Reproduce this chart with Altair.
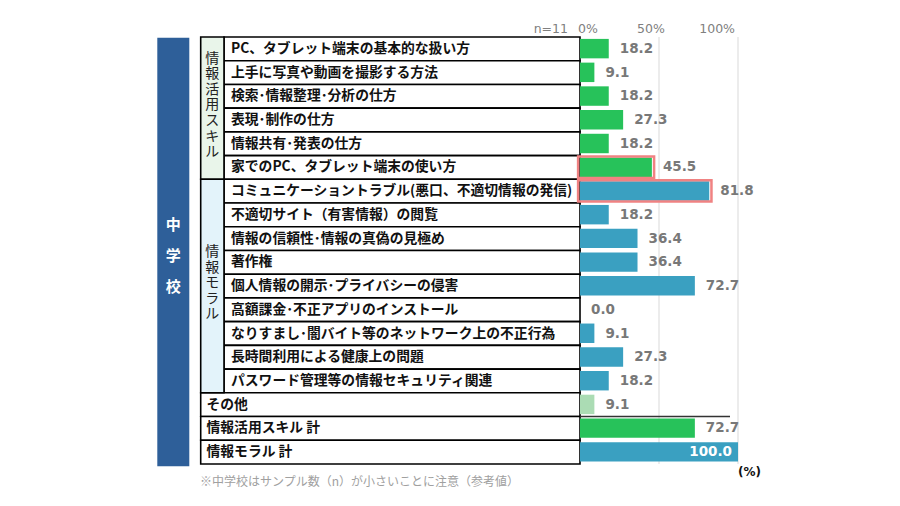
import altair as alt
import pandas as pd

labels = [
    "PC、タブレット端末の基本的な扱い方",
    "上手に写真や動画を撮影する方法",
    "検索･情報整理･分析の仕方",
    "表現･制作の仕方",
    "情報共有･発表の仕方",
    "家でのPC、タブレット端末の使い方",
    "コミュニケーショントラブル(悪口、不適切情報の発信)",
    "不適切サイト（有害情報）の閲覧",
    "情報の信頼性･情報の真偽の見極め",
    "著作権",
    "個人情報の開示･プライバシーの侵害",
    "高額課金･不正アプリのインストール",
    "なりすまし･闇バイト等のネットワーク上の不正行為",
    "長時間利用による健康上の問題",
    "パスワード管理等の情報セキュリティ関連",
    "その他",
    "情報活用スキル 計",
    "情報モラル 計",
]
values = [18.2, 9.1, 18.2, 27.3, 18.2, 45.5, 81.8, 18.2, 36.4, 36.4,
          72.7, 0.0, 9.1, 27.3, 18.2, 9.1, 72.7, 100.0]
kinds = ["skill"] * 6 + ["moral"] * 9 + ["other", "skill", "moral"]
highlight = [False] * 5 + [True, True] + [False] * 11
groups = ["情報活用スキル", "情報モラル"]
group_rows = [(0, 6), (6, 15)]
school = "中学校"
tick_labels = ["0%", "50%", "100%"]
tick_values = [0, 50, 100]
n_text = "n=11"
unit_text = "(%)"
note = "※中学校はサンプル数（n）が小さいことに注意（参考値）"

# colours
kind_colors = {"skill": "#27c25a", "moral": "#3aa0c1", "other": "#abdcb4"}
group_bg = ["#e9f5ea", "#e3f3fa"]

JP = "Noto Sans CJK JP"
NUM = "DejaVu Sans"

# layout in data units (x: percent units, y: row units)
row_h_px = 23.72
top_px = 37.0
x_px_per_unit = 1.58
zero_px = 580.0
xs = alt.Scale(domain=[-zero_px / x_px_per_unit, (900 - zero_px) / x_px_per_unit], nice=False, zero=False)
y0 = -top_px / row_h_px
ys = alt.Scale(domain=[y0, y0 + 506 / row_h_px], nice=False, zero=False, reverse=True)

def ux(px):
    return (px - zero_px) / x_px_per_unit

def uy(px):
    return (px - top_px) / row_h_px

TABLE_L = ux(200.7)
CAT_R = ux(224.0)
LABEL_X = ux(231.0)
LABEL_X2 = ux(206.5)
n_grp = 15
G_LH = 15.6
S_LH = 31.0

df = pd.DataFrame({
    "label": labels,
    "value": values,
    "kind": kinds,
    "hl": highlight,
})
df["r"] = range(len(df))
df["rt"] = df["r"] + 0.08
df["rb"] = df["r"] + 0.90
df["rm"] = df["r"] + 0.5
df["x0"] = 0.0
df["color"] = df["kind"].map(kind_colors)
df["cl"] = [CAT_R if r < n_grp else TABLE_L for r in df["r"]]
df["cr"] = 0.0
df["lx"] = [LABEL_X if r < n_grp else LABEL_X2 for r in df["r"]]
df["ct"] = df["r"]
df["cb"] = df["r"] + 1
df["vtxt"] = [f"{v:.1f}" for v in values]
df["inside"] = df["value"] >= 95
df["ol"] = -1.2
df["orr"] = df["value"] + 1.4
df["ot"] = df["r"] + 0.04
df["ob"] = df["r"] + 0.94

gdf = pd.DataFrame({
    "g": groups,
    "gt": [a for a, b in group_rows],
    "gb": [b for a, b in group_rows],
    "bg": group_bg,
})
# first line position so that the vertical text block is centred in the group
gdf["gm"] = (gdf["gt"] + gdf["gb"]) / 2 - 0.12 - [(len(g) - 1) * G_LH / 2 / row_h_px for g in groups]
gdf["txt"] = ["\n".join(list(g)) for g in groups]
gdf["x1"] = TABLE_L
gdf["x2"] = CAT_R
gdf["xm"] = (TABLE_L + CAT_R) / 2

def X(f):
    return alt.X(f, type="quantitative", scale=xs, axis=None)

def Y(f):
    return alt.Y(f, type="quantitative", scale=ys, axis=None)

# blue school box
sdf = pd.DataFrame({"t": ["\n".join(list(school))], "x1": [ux(157.3)], "x2": [ux(189.3)],
                    "y1": [0.03], "y2": [18.1], "xm": [ux(173.3)],
                    "ym": [uy(255.7 - (len(school) - 1) * S_LH / 2)]})
school_box = alt.Chart(sdf).mark_rect(color="#2e5f99").encode(
    x=X("x1"), x2="x2", y=Y("y1"), y2="y2")
school_txt = alt.Chart(sdf).mark_text(
    font=JP, fontSize=15, fontWeight="bold", color="white", lineBreak="\n",
    lineHeight=S_LH, align="center", baseline="middle").encode(
    x=X("xm"), y=Y("ym"), text="t:N")

# grid lines
grid_df = pd.DataFrame({"v": tick_values[1:], "a": [0.0, 0.0], "b": [18.0, 18.0]})
grid = alt.Chart(grid_df).mark_rule(color="#d9d9d9", strokeWidth=1).encode(
    x=X("v"), y=Y("a"), y2="b")

# table
cells = alt.Chart(df).mark_rect(fill="white", stroke="black", strokeWidth=1.6).encode(
    x=X("cl"), x2="cr", y=Y("ct"), y2="cb")
gcells = alt.Chart(gdf).mark_rect(stroke="black", strokeWidth=1.6).encode(
    x=X("x1"), x2="x2", y=Y("gt"), y2="gb",
    fill=alt.Fill("bg:N", scale=None))
gtext = alt.Chart(gdf).mark_text(
    font=JP, fontSize=14, color="#222222", lineBreak="\n", lineHeight=G_LH,
    align="center", baseline="middle").encode(
    x=X("xm"), y=Y("gm"), text="txt:N")
ltext = alt.Chart(df).mark_text(
    font=JP, fontSize=13.8, fontWeight="bold", color="#111111",
    align="left", baseline="middle").encode(
    x=X("lx"), y=Y("rm"), text="label:N")

# bars
bars = alt.Chart(df).mark_rect().encode(
    x=X("x0"), x2="value", y=Y("rt"), y2="rb",
    fill=alt.Fill("color:N", scale=None))
outline = alt.Chart(df).transform_filter("datum.hl").mark_rect(
    fill=None, stroke="#f08282", strokeWidth=2.5).encode(
    x=X("ol"), x2="orr", y=Y("ot"), y2="ob")

sep_df = pd.DataFrame({"a": [0.0], "b": [ux(730)], "y": [16.0]})
sep = alt.Chart(sep_df).mark_rule(color="#333333", strokeWidth=1.6).encode(
    x=X("a"), x2="b", y=Y("y"))

vout = alt.Chart(df).transform_filter("!datum.inside").mark_text(
    font=NUM, fontSize=13.5, fontWeight="bold", color="#787878",
    align="left", baseline="middle", dx=11).encode(
    x=X("value"), y=Y("rm"), text="vtxt:N")
vin = alt.Chart(df).transform_filter("datum.inside").mark_text(
    font=NUM, fontSize=13.5, fontWeight="bold", color="white",
    align="right", baseline="middle", dx=-6).encode(
    x=X("value"), y=Y("rm"), text="vtxt:N")

# header
hy = uy(29)
tick_styles = [("left", -2), ("center", -8), ("right", -3)]
header_layers = []
for lab, val, (al, dx) in zip(tick_labels, tick_values, tick_styles):
    hd = pd.DataFrame({"t": [lab], "x": [val], "y": [hy]})
    header_layers.append(alt.Chart(hd).mark_text(
        font=NUM, fontSize=12.5, color="#808080", align=al, baseline="middle", dx=dx).encode(
        x=X("x"), y=Y("y"), text="t:N"))
nd = pd.DataFrame({"t": [n_text], "x": [0.0], "y": [hy]})
header_layers.append(alt.Chart(nd).mark_text(
    font=NUM, fontSize=12.5, color="#808080", align="right", baseline="middle", dx=-12).encode(
    x=X("x"), y=Y("y"), text="t:N"))

ud = pd.DataFrame({"t": [unit_text], "x": [100.0], "y": [uy(471.7)]})
unit = alt.Chart(ud).mark_text(
    font=NUM, fontSize=12, fontWeight="bold", color="#111111", align="left", baseline="middle").encode(
    x=X("x"), y=Y("y"), text="t:N")
fd = pd.DataFrame({"t": [note], "x": [ux(200)], "y": [uy(481.7)]})
foot = alt.Chart(fd).mark_text(
    font=JP, fontSize=12, color="#a0a0a0", align="left", baseline="middle").encode(
    x=X("x"), y=Y("y"), text="t:N")

chart = alt.layer(
    school_box, grid, cells, gcells, bars, outline, sep,
    school_txt, gtext, ltext, vout, vin, *header_layers, unit, foot
).properties(
    width=900, height=506,
    autosize=alt.AutoSizeParams(type="fit", contains="padding"),
    padding=0, background="white",
).configure_view(stroke=None)

chart.save("out.html", embed_options={"renderer": "svg", "actions": False})
